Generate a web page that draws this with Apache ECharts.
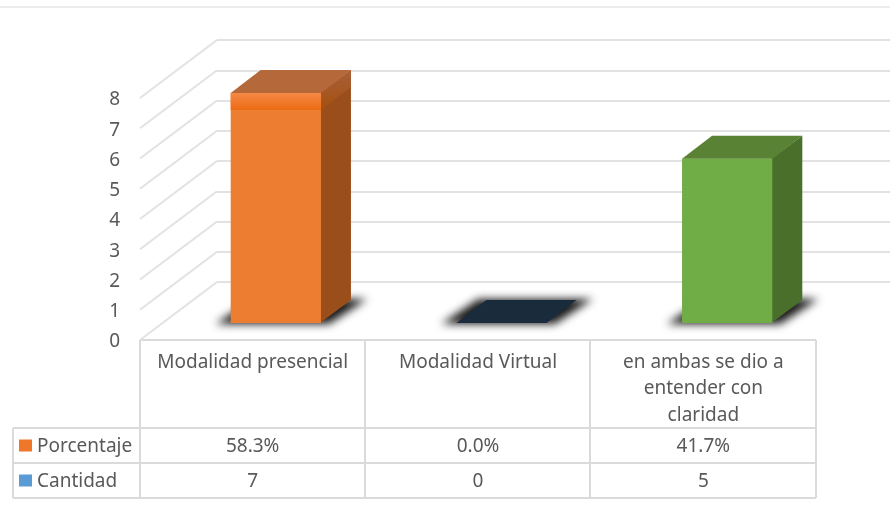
<!DOCTYPE html>
<html><head><meta charset="utf-8">
<style>html,body{margin:0;padding:0;background:#fff}#c{width:890px;height:508px}</style>
<script src="https://cdn.jsdelivr.net/npm/echarts@6/dist/echarts.min.js"></script>
</head><body><div id="c"></div>
<script>
const categories = ['Modalidad presencial', 'Modalidad Virtual', 'en ambas se dio a\nentender con\nclaridad'];
const cantidad = [7, 0, 5];
const porcentaje = ['58.3%', '0.0%', '41.7%'];
const rowNames = ['Porcentaje', 'Cantidad'];
const yTicks = [0, 1, 2, 3, 4, 5, 6, 7, 8];

const barFront = ['#ED7D31', '#1A2B3C', '#70AD47'];
const barTop = ['#B5683A', '#1A2B3C', '#598235'];
const barSide = ['#9A4F1B', '#1A2B3C', '#4A6F2A'];
const swatches = ['#F0762A', '#5B9BD5'];
const TXT = '#595959', GRID = '#E2E2E2', TBL = '#DADADA';
const FONT = '"Noto Sans"', FS = 19;

const chart = echarts.init(document.getElementById('c'));
const DX = 30, DY = -23, WALL_DX = 77, WALL_DY = -58, FAR = 3000;
const X = [140, 365, 590, 816], Y = [340, 428, 463, 498], LEFT = 13;

function line(x1, y1, x2, y2, c, w) {
  return { type: 'line', silent: true, shape: { x1, y1, x2, y2 }, style: { stroke: c, lineWidth: w } };
}
const tableGraphic = [
  line(0, 7, 890, 7, '#E6E6E6', 1.5),
  line(X[0], Y[0], X[3], Y[0], TBL, 2),
  line(LEFT, Y[1], X[3], Y[1], TBL, 2),
  line(LEFT, Y[2], X[3], Y[2], TBL, 2),
  line(LEFT, Y[3], X[3], Y[3], TBL, 2),
  line(LEFT, Y[1], LEFT, Y[3], TBL, 2),
  ...X.map(x => line(x, Y[0], x, Y[3], TBL, 2)),
  ...rowNames.map((n, i) => ({ type: 'rect', silent: true, shape: { x: 19, y: Y[i + 1] + 11.5, width: 13, height: 12 }, style: { fill: swatches[i] } })),
  ...rowNames.map((n, i) => ({ type: 'text', silent: true, x: 37, y: Y[i + 1] + 18.5, style: { text: n, fill: TXT, font: FS + 'px ' + FONT, verticalAlign: 'middle' } }))
];

function renderWall(params, api) {
  const v = api.value(0);
  const p = api.coord([0, v]);
  const half = api.size([1, 0])[0] / 2;
  const x = p[0] - half;
  return { type: 'line', silent: true, shape: { x1: x, y1: p[1], x2: x + WALL_DX, y2: p[1] + WALL_DY }, style: { stroke: GRID, lineWidth: 2 } };
}

function renderBar(params, api) {
  const i = api.value(0), v = api.value(1);
  const base = api.coord([i, 0]), top = api.coord([i, v]);
  const w = api.size([1, 0])[0] * 0.4;
  const l = base[0] - w / 2, r = base[0] + w / 2, yb = base[1], yt = top[1];
  const kids = [];
  // soft floor shadow: only the blurred shadow of an off-screen polygon lands on the chart
  kids.push({ type: 'polygon', silent: true,
    shape: { points: [[l - 15 - FAR, yb + 1], [r + 8 - FAR, yb + 1], [r + DX + 16 - FAR, yb + DY - 1], [l + DX - 8 - FAR, yb + DY - 1]] },
    style: { fill: '#000', shadowBlur: 8, shadowOffsetX: FAR, shadowColor: 'rgba(25,25,25,1)' } });
  if (v > 0) {
    kids.push({ type: 'polygon', silent: true, shape: { points: [[r - 1, yt], [r + DX, yt + DY], [r + DX, yb + DY], [r - 1, yb]] }, style: { fill: barSide[i] } });
    kids.push({ type: 'rect', silent: true, shape: { x: l, y: yt, width: w, height: yb - yt }, style: { fill: barFront[i] } });
    if (v === Math.max(...cantidad)) {
      const h = 17;
      kids.push({ type: 'polygon', silent: true, shape: { points: [[r, yt], [r + DX, yt + DY], [r + DX, yt + DY + h], [r, yt + h]] },
        style: { fill: new echarts.graphic.LinearGradient(0, 0, 0, 1, [{ offset: 0, color: '#A8603A' }, { offset: 1, color: '#A5500F' }]) } });
      kids.push({ type: 'rect', silent: true, shape: { x: l, y: yt, width: w, height: h },
        style: { fill: new echarts.graphic.LinearGradient(0, 0, 0, 1, [{ offset: 0, color: '#F68845' }, { offset: 1, color: '#EC6C14' }]) } });
    }
  }
  kids.push({ type: 'polygon', silent: true, shape: { points: [[l, yt], [r, yt], [r + DX, yt + DY], [l + DX, yt + DY]] }, style: { fill: barTop[i] } });
  return { type: 'group', children: kids };
}

function renderCell(params, api) {
  const i = api.value(0), row = api.value(1);
  const x = api.coord([i, 0])[0];
  return { type: 'text', silent: true, x, y: (Y[row + 1] + Y[row + 2]) / 2 + 1,
    style: { text: api.value(2), fill: TXT, font: FS + 'px ' + FONT, align: 'center', verticalAlign: 'middle' } };
}

chart.setOption({
  animation: false,
  backgroundColor: '#fff',
  grid: [
    { left: 140, top: 98, width: 676, height: 242 },
    { left: 217, top: 40, right: 0, height: 242 },
    { left: 163, top: 60, width: 677, height: 263 },
    { left: 140, top: 100, width: 676, height: 242 }
  ],
  xAxis: [
    { gridIndex: 0, type: 'category', data: categories, axisLine: { show: false }, axisTick: { show: false },
      axisLabel: { color: TXT, fontFamily: FONT, fontSize: FS, lineHeight: 26.5, margin: 9, interval: 0, width: 225, overflow: 'none' } },
    { gridIndex: 1, type: 'category', data: categories, show: false },
    { gridIndex: 2, type: 'category', data: categories, show: false },
    { gridIndex: 3, type: 'category', data: categories, show: false }
  ],
  yAxis: [
    { gridIndex: 0, type: 'value', min: 0, max: 8, interval: 1, show: false, splitLine: { show: false } },
    { gridIndex: 1, type: 'value', min: 0, max: 8, interval: 1, axisLine: { show: false }, axisTick: { show: false }, axisLabel: { show: false },
      splitLine: { show: true, lineStyle: { color: GRID, width: 2 } } },
    { gridIndex: 2, type: 'value', min: 0, max: 8, interval: 1, show: false, splitLine: { show: false } },
    { gridIndex: 3, type: 'value', min: 0, max: 8, interval: 1, splitLine: { show: false }, axisLine: { show: false }, axisTick: { show: false },
      axisLabel: { color: TXT, fontFamily: FONT, fontSize: FS, margin: 20 } }
  ],
  series: [
    { type: 'custom', name: 'walls', xAxisIndex: 0, yAxisIndex: 0, renderItem: renderWall, data: yTicks.map(v => [v]), encode: { y: 0 }, z: 1 },
    { type: 'custom', name: 'Cantidad', xAxisIndex: 2, yAxisIndex: 2, renderItem: renderBar, data: cantidad.map((v, i) => [i, v]), encode: { x: 0, y: 1 }, z: 3 },
    { type: 'custom', name: 'table', xAxisIndex: 0, yAxisIndex: 0, renderItem: renderCell, encode: { x: 0 }, z: 4,
      data: [...porcentaje.map((v, i) => [i, 0, v]), ...cantidad.map((v, i) => [i, 1, String(v)])],
      dimensions: ['c', 'r', { name: 't', type: 'ordinal' }] }
  ],
  graphic: tableGraphic
});
</script></body></html>
